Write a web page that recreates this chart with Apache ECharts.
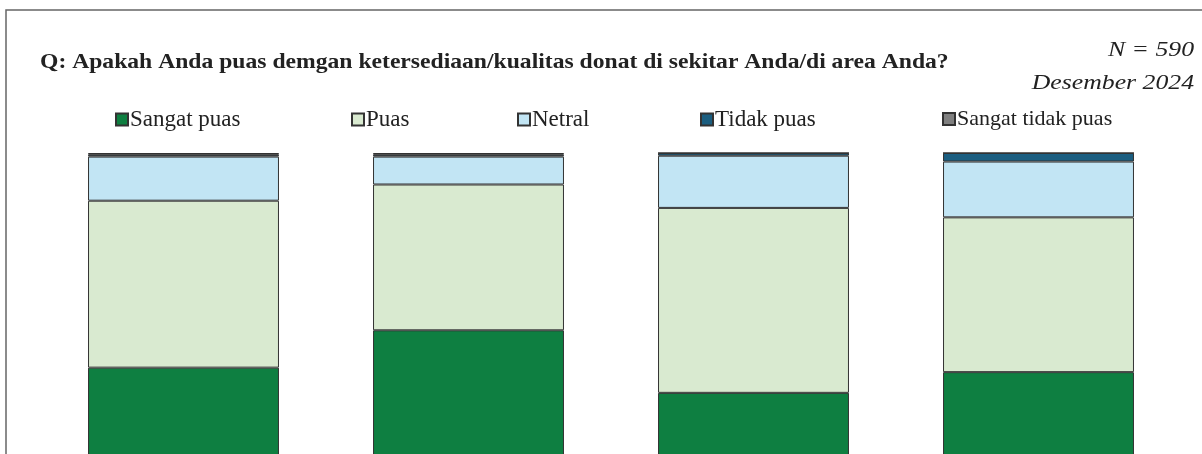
<!DOCTYPE html>
<html lang="id">
<head>
    <meta charset="utf-8">
    <title>Kepuasan donat</title>
    <script src="https://cdn.jsdelivr.net/npm/echarts@6/dist/echarts.min.js"></script>
    <style type="text/css">
        html, body {
            width: 100%;
            height: 100%;
            margin: 0px;
            padding: 0px;
            overflow: hidden;
            background: #fff;
        }

        #main {
            width: 1202px;
            height: 640px;
        }
    </style>
</head>
<body>
<div id="main"></div>
<script>
    // data (persen), label kategori ada di bawah, tidak kelihatan
    var categories = ['A', 'B', 'C', 'D'];
    var sangatPuas = [52.3, 60.6, 46.7, 51.3];
    var puas = [37.1, 32.4, 41.1, 34.4];
    var netral = [9.8, 6.2, 11.6, 12.4];
    var tidakPuas = [0.4, 0.4, 0.6, 1.9];
    var sangatTidakPuas = [0.4, 0.4, 0.0, 0.0];

    var names = ['Sangat puas', 'Puas', 'Netral', 'Tidak puas', 'Sangat tidak puas'];
    var colors = ['#0e7f41', '#d9ead0', '#c2e5f4', '#1b5e80', '#808080'];
    var values = [sangatPuas, puas, netral, tidakPuas, sangatTidakPuas];
    var legendLeft = [110, 346, 512, 695, 937];

    var serif = '"Liberation Serif", "Times New Roman", serif';

    var myChart = echarts.init(document.getElementById('main'));

    var series = [];
    var legends = [];
    names.forEach(function (n, i) {
        series.push({
            name: n,
            type: 'bar',
            stack: 'total',
            barWidth: '67%',
            data: values[i],
            itemStyle: {
                color: colors[i],
                borderColor: '#333',
                borderWidth: 1
            }
        });
        legends.push({
            data: [n],
            left: legendLeft[i],
            top: 103,
            icon: 'rect',
            itemWidth: 12,
            itemHeight: 12,
            itemGap: 0,
            textStyle: {
                fontFamily: serif,
                fontSize: i === 4 ? 22 : 23,
                color: '#222',
                padding: [0, 0, 0, -3]
            }
        });
    });

    myChart.setOption({
        animation: false,
        graphic: [
            {
                type: 'rect',
                shape: {x: 6, y: 10, width: 1300, height: 700},
                style: {fill: 'none', stroke: '#666', lineWidth: 1.5},
                silent: true
            },
            {
                // judul, agak melebar seperti di gambar asli
                type: 'text',
                x: 40,
                y: 63,
                scaleX: 1.125,
                style: {
                    text: 'Q: Apakah Anda puas demgan ketersediaan/kualitas donat di sekitar Anda/di area Anda?',
                    font: 'bold 21px ' + serif,
                    fill: '#222',
                    verticalAlign: 'middle'
                }
            },
            {
                type: 'text',
                x: 1194,
                y: 50,
                scaleX: 1.17,
                style: {
                    text: 'N = 590',
                    font: 'italic 22px ' + serif,
                    fill: '#222',
                    align: 'right',
                    verticalAlign: 'middle'
                }
            },
            {
                type: 'text',
                x: 1194,
                y: 83,
                scaleX: 1.17,
                style: {
                    text: 'Desember 2024',
                    font: 'italic 22px ' + serif,
                    fill: '#222',
                    align: 'right',
                    verticalAlign: 'middle'
                }
            }
        ],
        legend: legends,
        grid: {
            left: 41,
            right: 21,
            top: 153,
            bottom: 37
        },
        xAxis: {
            type: 'category',
            data: categories,
            axisLine: {show: false},
            axisTick: {show: false},
            axisLabel: {show: false}
        },
        yAxis: {
            type: 'value',
            min: 0,
            max: 100,
            show: false,
            splitLine: {show: false}
        },
        series: series
    });
</script>
</body>
</html>
